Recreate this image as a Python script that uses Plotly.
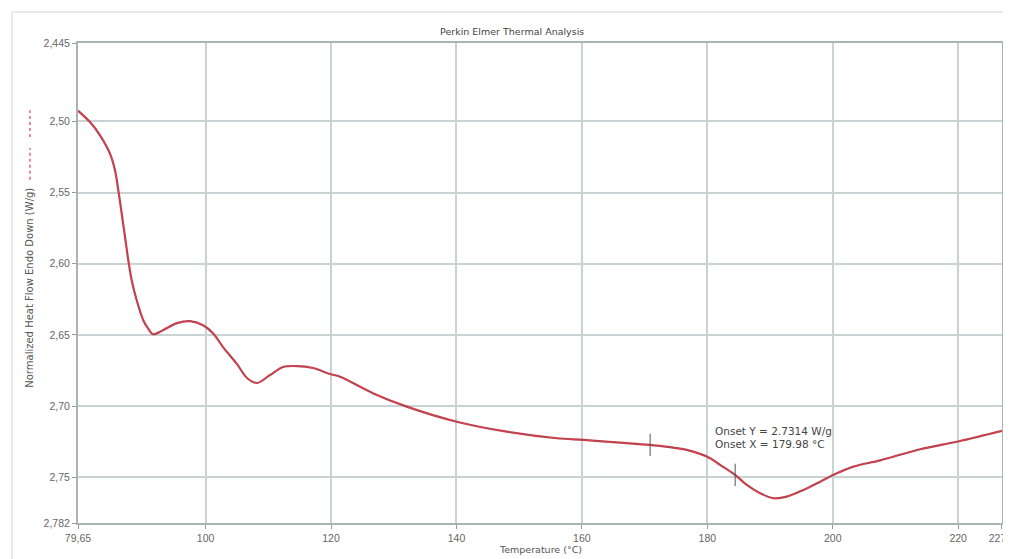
import plotly.graph_objects as go

# ---- data ----
temperature = [79.65, 81.56, 83.16, 84.75, 85.55, 86.08, 86.62, 87.15, 87.67, 88.21,
               89.01, 90.06, 90.81, 91.66, 93.21, 95.44, 97.51, 99.59, 101.18, 102.78,
               105.01, 106.60, 108.20, 110.27, 112.34, 114.58, 117.13, 119.84, 121.44, 126.75,
               132.07, 140.05, 148.02, 156.00, 160.24, 166.09, 170.88, 176.73, 180.45, 182.04,
               184.44, 186.30, 188.42, 190.54, 192.68, 195.33, 197.99, 200.65, 203.30, 207.56,
               213.94, 220.32, 226.97]
heat_flow = [2.4925, 2.5005, 2.5098, 2.5227, 2.5344, 2.5484, 2.5648, 2.5812, 2.5975, 2.6116,
             2.6256, 2.6396, 2.6453, 2.6495, 2.6466, 2.6417, 2.6403, 2.6431, 2.6487, 2.6585,
             2.6705, 2.6802, 2.6837, 2.6781, 2.6725, 2.6718, 2.6732, 2.6774, 2.6793, 2.6910,
             2.7003, 2.7109, 2.7179, 2.7225, 2.7237, 2.7256, 2.7272, 2.7307, 2.7365, 2.7412,
             2.7482, 2.7553, 2.7611, 2.7646, 2.7635, 2.7588, 2.7530, 2.7471, 2.7424, 2.7380,
             2.7302, 2.7244, 2.7173]

onset_marks_x = [170.88, 184.44]
onset_marks_y = [2.7272, 2.7482]

x_tickvals = [79.65, 100, 120, 140, 160, 180, 200, 220, 226.97]
x_ticktext = ["79,65", "100", "120", "140", "160", "180", "200", "220", "227,0"]
y_tickvals = [2.445, 2.50, 2.55, 2.60, 2.65, 2.70, 2.75, 2.782]
y_ticktext = ["2,445", "2,50", "2,55", "2,60", "2,65", "2,70", "2,75", "2,782"]

title_text = "Perkin Elmer Thermal Analysis"
x_title = "Temperature (°C)"
y_title = "Normalized Heat Flow Endo Down (W/g)"
onset_lines = ["Onset Y = 2.7314 W/g", "Onset X = 179.98 °C"]
onset_x = 180.9
onset_ys = [2.7175, 2.7262]

FONT = "DejaVu Sans, sans-serif"
TICKFONT = "Liberation Sans, Arial, sans-serif"
GRID = "#cad3d3"

fig = go.Figure()
fig.add_trace(go.Scatter(
    x=temperature, y=heat_flow, mode="lines",
    line=dict(color="#b8434f", width=2.2, shape="spline", smoothing=0.9),
    hoverinfo="x+y", showlegend=False))
fig.add_trace(go.Scatter(
    x=temperature, y=heat_flow, mode="lines",
    line=dict(color="#e2404e", width=1, dash="dash", shape="spline", smoothing=0.9),
    hoverinfo="skip", showlegend=False))
fig.add_trace(go.Scatter(
    x=onset_marks_x, y=onset_marks_y, mode="markers",
    marker=dict(symbol="line-ns", size=16, line=dict(color="#555555", width=1)),
    hoverinfo="skip", showlegend=False))

# page body has an 8px margin: figure is sized/offset so the plot area lands at
# page x 78..1002, y 43..523
fig.update_layout(
    width=1003, height=551,
    margin=dict(l=70, r=9, t=35, b=36, autoexpand=False),
    paper_bgcolor="white", plot_bgcolor="white",
    font=dict(family=FONT, size=10, color="#555555"),
    showlegend=False,
)

fig.update_xaxes(
    range=[79.65, 226.99], tickmode="array", tickvals=x_tickvals, ticktext=x_ticktext,
    showgrid=True, gridcolor=GRID, gridwidth=1.5,
    showline=True, linecolor="#aab3b3", linewidth=2, mirror=True,
    ticks="outside", ticklen=4, tickcolor="#999999", ticklabeloverflow="allow",
    tickfont=dict(family=TICKFONT, size=10.5, color="#666666"), zeroline=False, automargin=False,
)
fig.update_yaxes(
    range=[2.782, 2.445], tickmode="array", tickvals=y_tickvals, ticktext=y_ticktext,
    showgrid=True, gridcolor=GRID, gridwidth=1.5,
    showline=True, linecolor="#aab3b3", linewidth=2, mirror=True,
    ticks="outside", ticklen=4, tickcolor="#999999",
    tickfont=dict(family=TICKFONT, size=10.5, color="#666666"), zeroline=False, automargin=False,
)

annotations = [
    dict(text=title_text, xref="paper", yref="paper", x=0.4697, y=1.025,
         xanchor="center", yanchor="middle", showarrow=False,
         font=dict(size=9.5, color="#444444")),
    dict(text=x_title, xref="paper", yref="paper", x=0.5, y=-0.056,
         xanchor="center", yanchor="middle", showarrow=False,
         font=dict(size=9.5, color="#555555")),
    dict(text=y_title, xref="paper", yref="paper", x=-0.052, y=0.49,
         xanchor="center", yanchor="middle", textangle=-90, showarrow=False,
         font=dict(size=10, color="#555555")),
]
for txt, yy in zip(onset_lines, onset_ys):
    annotations.append(dict(text=txt, xref="x", yref="y", x=onset_x, y=yy,
                            xanchor="left", yanchor="middle", align="left", showarrow=False,
                            font=dict(size=10.5, color="#444444")))
fig.update_layout(annotations=annotations)

shapes = [
    # red dashed legend sample beside the y title
    dict(type="line", xref="paper", yref="paper", x0=-0.052, x1=-0.052, y0=0.804, y1=0.860,
         line=dict(color="#d9404f", width=1.2, dash="dot")),
    dict(type="line", xref="paper", yref="paper", x0=-0.052, x1=-0.052, y0=0.715, y1=0.781,
         line=dict(color="#d9404f", width=1.2, dash="dot")),
    # faint page frame
    dict(type="line", xref="paper", yref="paper", x0=-0.0714, x1=1.02, y0=1.0646, y1=1.0646,
         line=dict(color="#e2e2e2", width=1.5)),
    dict(type="line", xref="paper", yref="paper", x0=-0.0714, x1=-0.0714, y0=1.0646, y1=-0.08,
         line=dict(color="#e2e2e2", width=1.5)),
]
fig.update_layout(shapes=shapes)

fig.write_html("out.html")
